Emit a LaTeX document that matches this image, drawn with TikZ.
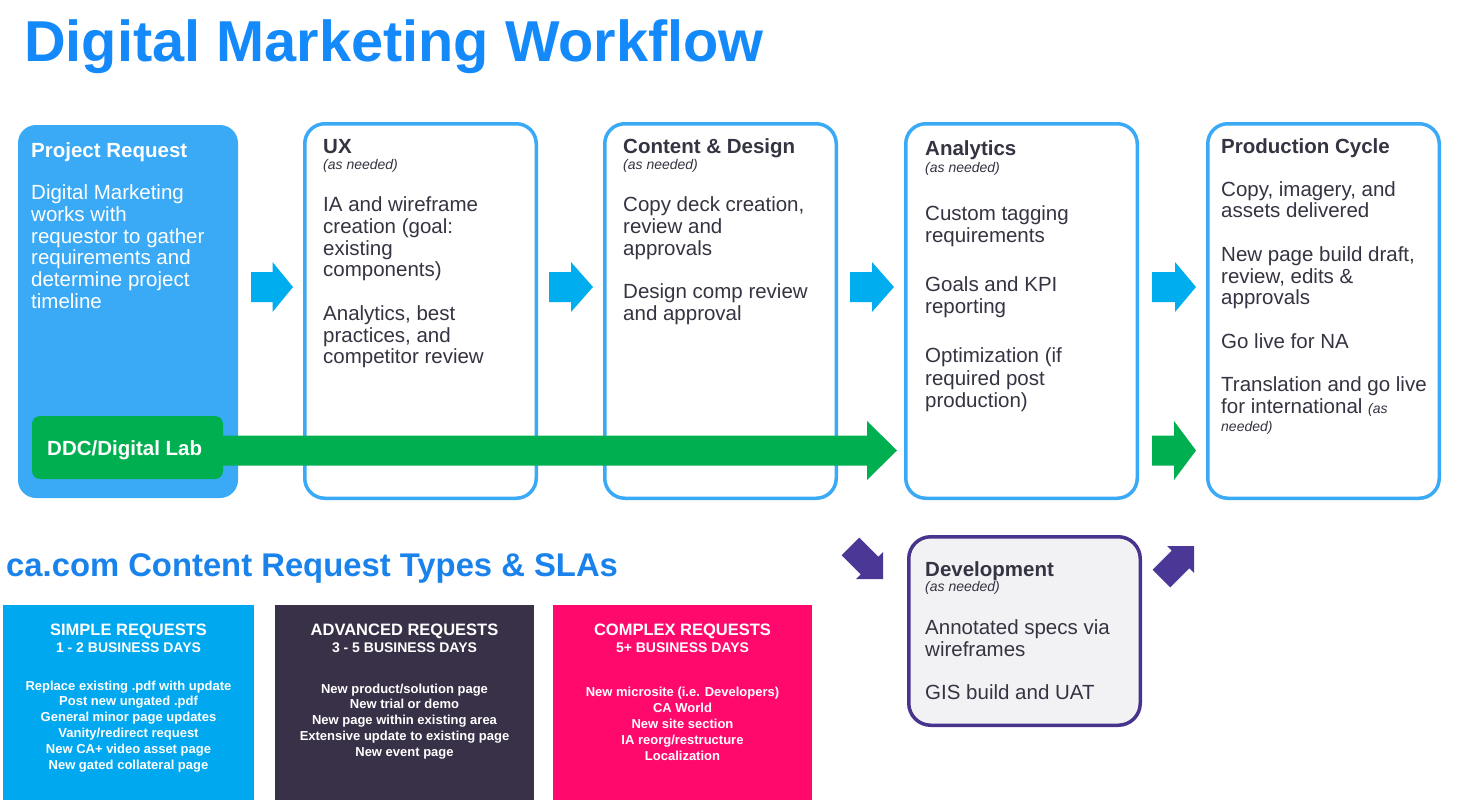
\documentclass[tikz,border=0pt]{standalone}
\usepackage{fontspec}
\setmainfont{Liberation Sans}
\definecolor{titleblue}{RGB}{20,138,250}
\definecolor{headblue}{RGB}{25,130,235}
\definecolor{prfill}{RGB}{59,170,246}
\definecolor{boxblue}{RGB}{59,170,246}
\definecolor{cyanA}{RGB}{0,174,239}
\definecolor{greenA}{RGB}{0,176,80}
\definecolor{purpleB}{RGB}{72,52,140}
\definecolor{purpleA}{RGB}{75,55,150}
\definecolor{devfill}{RGB}{242,242,244}
\definecolor{darktext}{RGB}{52,52,66}
\definecolor{simplefill}{RGB}{0,168,240}
\definecolor{advfill}{RGB}{57,49,71}
\definecolor{cplxfill}{RGB}{255,10,108}
\newcommand\txtlines[4][]{%
  \foreach \yy/\ltext [count=\ii] in {#4} {\node[body,#1] (#2\ii) at (#3,-\yy) {\ltext};}}
\newcommand\reqlines[3]{%
  \foreach \yy/\ltext [count=\ii] in {#3} {\node[reqitem] (#1\ii) at (#2,-\yy) {\ltext};}}
\begin{document}
\begin{tikzpicture}[x=1pt,y=1pt,
  body/.style={anchor=base west, inner sep=0, text=darktext, font=\fontsize{20.5}{24}\selectfont},
  boxtitle/.style={anchor=base west, inner sep=0, text=darktext, font=\bfseries\fontsize{20.5}{24}\selectfont},
  asneeded/.style={anchor=base west, inner sep=0, text=darktext, font=\itshape\fontsize{14}{16}\selectfont},
  obox/.style={draw=boxblue, line width=3.5pt, rounded corners=20pt, fill=white, minimum width=231.5pt, minimum height=374.5pt, inner sep=0},
  reqbox/.style={minimum height=195pt, inner sep=0},
  reqtitle/.style={anchor=base, inner sep=0, text=white, font=\bfseries\fontsize{16.5}{18}\selectfont},
  reqsub/.style={anchor=base, inner sep=0, text=white, font=\bfseries\fontsize{14}{16}\selectfont},
  reqitem/.style={anchor=base, inner sep=0, text=white, font=\bfseries\fontsize{13}{15}\selectfont},
  pics/barrow/.style n args={5}{code={\fill[#5] (0,-#1) -- (#3,-#1) -- (#3,-#2) -- (#4,0) -- (#3,#2) -- (#3,#1) -- (0,#1) -- cycle;}},
  pics/darrow/.style={code={\fill[purpleA] (0,0) -- (-19,19) -- (-19,12.5) -- (-46,12.5) -- (-46,-12.5) -- (-19,-12.5) -- (-19,-19) -- cycle;}}
]
\useasboundingbox (0,0) rectangle (1462,-811);

% title
\node[anchor=base west, inner sep=0, text=titleblue, font=\bfseries\fontsize{57.7}{60}\selectfont] (title) at (24,-61) {Digital Marketing Workflow};

% workflow boxes
\node[fill=prfill, rounded corners=18pt, minimum width=220pt, minimum height=373pt, inner sep=0] (pr) at (128,-311.5) {};
\node[obox] (ux) at (420.5,-311) {};
\node[obox] (cd) at (720.5,-311) {};
\node[obox] (an) at (1021.5,-311) {};
\node[obox] (pc) at (1323.5,-311) {};

% blue block arrows
\pic at (251,-287) {barrow={15}{25}{21.5}{42}{cyanA}};
\pic at (549,-287) {barrow={15}{25}{22}{44}{cyanA}};
\pic at (850,-287) {barrow={15}{25}{22}{44}{cyanA}};
\pic at (1152,-287) {barrow={15}{25}{23}{44}{cyanA}};

% green arrows
\pic at (215,-450.5) {barrow={15}{29.5}{652}{682}{greenA}};
\pic at (1152,-450.5) {barrow={15}{29.5}{22}{44}{greenA}};
\node[fill=greenA, rounded corners=8pt, minimum width=191pt, minimum height=63pt, inner sep=0] (ddc) at (127.5,-447.5) {};
\node[anchor=base west, inner sep=0, text=white, font=\bfseries\fontsize{20.5}{24}\selectfont] (ddct) at (47,-455) {DDC/Digital Lab};

% Project Request text
\node[boxtitle, text=white] (prt) at (31,-157) {Project Request};
\txtlines[text=white]{prb}{31}{199/Digital Marketing, 221/works with, 243/requestor to gather, 264/requirements and, 286/determine project, 308/timeline}

% UX
\node[boxtitle] (uxt) at (323,-153) {UX};
\node[asneeded] (uxa) at (323,-169) {(as needed)};
\txtlines{uxb}{323}{211/IA and wireframe, 233/creation (goal:, 255/existing, 276/components), 320/{Analytics, best}, 342/{practices, and}, 363/competitor review}

% Content & Design
\node[boxtitle] (cdt) at (623,-153) {Content \& Design};
\node[asneeded] (cda) at (623,-169) {(as needed)};
\txtlines{cdb}{623}{211/{Copy deck creation,}, 233/review and, 255/approvals, 298/Design comp review, 320/and approval}

% Analytics
\node[boxtitle] (ant) at (925,-155) {Analytics};
\node[asneeded] (ana) at (925,-172) {(as needed)};
\txtlines{anb}{925}{220/Custom tagging, 242/requirements, 291/Goals and KPI, 313/reporting, 362/Optimization (if, 385/required post, 407/production)}

% Production Cycle
\node[boxtitle] (pct) at (1221,-153) {Production Cycle};
\txtlines{pcb}{1221}{196/{Copy, imagery, and}, 217/assets delivered, 261/{New page build draft,}, 283/{review, edits \&}, 304/approvals, 348/Go live for NA, 391/Translation and go live, 413/{for international {\itshape\fontsize{14}{16}\selectfont (as}}}
\node[asneeded] (pca) at (1221,-431) {needed)};

% Development
\node[draw=purpleB, line width=3.5pt, fill=devfill, rounded corners=22pt, minimum width=231.5pt, minimum height=188.5pt, inner sep=0] (dev) at (1024.5,-631) {};
\node[boxtitle] (devt) at (925,-576) {Development};
\node[asneeded] (deva) at (925,-591) {(as needed)};
\txtlines{devb}{925}{634/Annotated specs via, 656/wireframes, 699/GIS build and UAT}

% purple arrows
\pic[rotate=-45] at (883,-579) {darrow};
\pic[rotate=45] at (1194,-546) {darrow};

% request types heading
\node[anchor=base west, inner sep=0, text=headblue, font=\bfseries\fontsize{32.8}{36}\selectfont] (head) at (6,-576) {ca.com Content Request Types \& SLAs};

% request boxes
\node[reqbox, fill=simplefill, minimum width=251pt] (simple) at (128.5,-702.5) {};
\node[reqbox, fill=advfill, minimum width=259pt] (adv) at (404.5,-702) {};
\node[reqbox, fill=cplxfill, minimum width=259pt] (cplx) at (682.5,-702) {};

\node[reqtitle] (st) at (128.5,-635) {SIMPLE REQUESTS};
\node[reqsub] (ss) at (128.5,-652) {1 - 2 BUSINESS DAYS};
\reqlines{si}{128.5}{690/{Replace existing .pdf with update}, 705/{Post new ungated .pdf}, 721/{General minor page updates}, 737/{Vanity/redirect request}, 753/{New CA+ video asset page}, 769/{New gated collateral page}}

\node[reqtitle] (at) at (404.5,-635) {ADVANCED REQUESTS};
\node[reqsub] (as) at (404.5,-652) {3 - 5 BUSINESS DAYS};
\reqlines{ai}{404.5}{693/{New product/solution page}, 708/{New trial or demo}, 724/{New page within existing area}, 740/{Extensive update to existing page}, 756/{New event page}}

\node[reqtitle] (ct) at (682.5,-635) {COMPLEX REQUESTS};
\node[reqsub] (cs) at (682.5,-652) {5+ BUSINESS DAYS};
\reqlines{ci}{682.5}{696/{New microsite (i.e. Developers)}, 712/{CA World}, 728/{New site section}, 744/{IA reorg/restructure}, 760/{Localization}}
\end{tikzpicture}
\end{document}
